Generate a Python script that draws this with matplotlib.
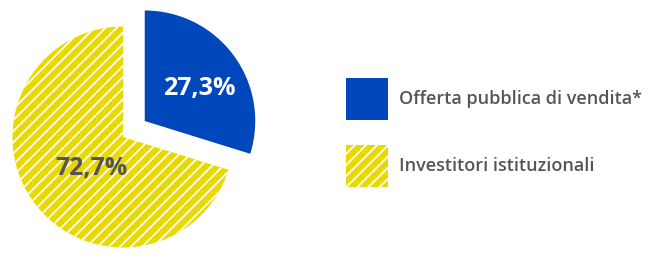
import matplotlib
matplotlib.use("Agg")
import matplotlib.pyplot as plt
from matplotlib.patches import Rectangle

categories = ["Offerta pubblica di vendita*", "Investitori istituzionali"]
values = [27.3, 72.7]                 # printed percentages
value_labels = ["27,3%", "72,7%"]
slice_shares = [29.8, 70.2]           # slice sizes as drawn in the picture

BLUE = "#0047BB"
YELLOW = "#E9D900"
GREY = "#555555"

DPI = 100
PX = 72 / DPI  # points per pixel

plt.rcParams['hatch.linewidth'] = 1.3
plt.rcParams['font.family'] = ['Open Sans', 'DejaVu Sans']

fig = plt.figure(figsize=(649 / DPI, 260 / DPI), dpi=DPI)
ax = fig.add_axes([0, 0, 1, 1])

wedges, _ = ax.pie(slice_shares, center=(123, 123), radius=110.5, startangle=90,
                   counterclock=False, explode=[27, 0],
                   colors=[BLUE, YELLOW], frame=True)
ax.set_xlim(0, 649)
ax.set_ylim(0, 260)
ax.set_aspect('equal')
ax.axis('off')
wedges[0].set_linewidth(0)
wedges[1].set_edgecolor('white')
wedges[1].set_linewidth(0)
wedges[1].set_hatch('///')

ax.text(199, 171, value_labels[0], color='white', fontsize=25 * PX, fontweight='bold',
        ha='center', va='center')
ax.text(92, 92, value_labels[1], color=GREY, fontsize=25 * PX, fontweight='bold',
        ha='center', va='center')

# legend
ax.add_patch(Rectangle((346, 260 - 120), 42, 42, facecolor=BLUE, linewidth=0))
ax.add_patch(Rectangle((346, 260 - 187), 42, 42, facecolor=YELLOW, edgecolor='white',
                       linewidth=0, hatch='///'))
ax.text(399, 260 - 99, categories[0], color=GREY, fontsize=18 * PX, fontweight='semibold',
        ha='left', va='center')
ax.text(399, 260 - 166, categories[1], color=GREY, fontsize=18 * PX, fontweight='semibold',
        ha='left', va='center')

fig.savefig("out.png", dpi=DPI, facecolor='white')
